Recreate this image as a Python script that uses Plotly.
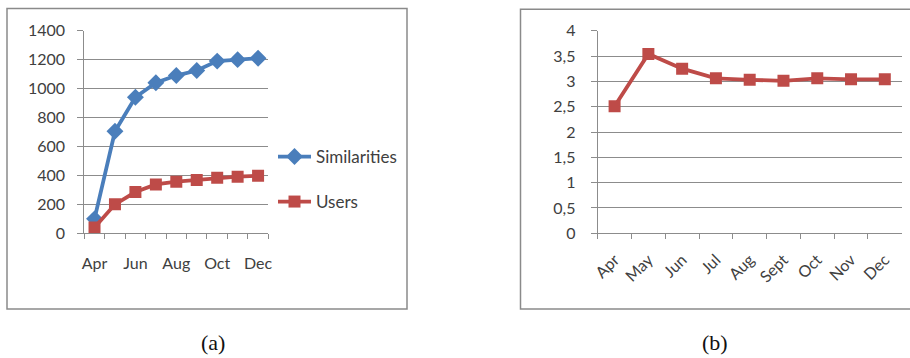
import plotly.graph_objects as go

W, H = 910, 358

months = ["Apr", "May", "Jun", "Jul", "Aug", "Sept", "Oct", "Nov", "Dec"]
left_labels = ["Apr", "", "Jun", "", "Aug", "", "Oct", "", "Dec"]
similarities = [100, 705, 940, 1040, 1090, 1125, 1190, 1200, 1210]
users = [40, 200, 285, 338, 357, 368, 384, 391, 398]
ratio = [2.51, 3.54, 3.25, 3.06, 3.03, 3.01, 3.06, 3.04, 3.04]

left_yticks = [0, 200, 400, 600, 800, 1000, 1200, 1400]
right_yticks = [0, 0.5, 1, 1.5, 2, 2.5, 3, 3.5, 4]
right_yticktext = ["0", "0,5", "1", "1,5", "2", "2,5", "3", "3,5", "4"]

BLUE = "#4A7EBB"
RED = "#BE4B48"
GRID = "#8C8C8C"
TXT = "#404040"
FONT = "Lato, 'Open Sans', sans-serif"


def px(x):
    return x / W


def py(y):
    return 1 - y / H


fig = go.Figure()

fig.add_trace(go.Scatter(
    x=months, y=similarities, name="Similarities", mode="lines+markers",
    line=dict(color=BLUE, width=3.8),
    marker=dict(symbol="diamond", size=13, color=BLUE),
    xaxis="x", yaxis="y", legend="legend",
))
fig.add_trace(go.Scatter(
    x=months, y=users, name="Users", mode="lines+markers",
    line=dict(color=RED, width=3.8),
    marker=dict(symbol="square", size=12, color=RED),
    xaxis="x", yaxis="y", legend="legend2",
))
fig.add_trace(go.Scatter(
    x=months, y=ratio, name="Ratio", mode="lines+markers",
    line=dict(color=RED, width=3.8),
    marker=dict(symbol="square", size=12, color=RED),
    xaxis="x2", yaxis="y2", showlegend=False,
))

tickfont = dict(family=FONT, size=16, color=TXT)
common = dict(
    showline=True, linecolor=GRID, linewidth=1,
    ticks="outside", tickcolor=GRID, tickwidth=1,
    tickfont=tickfont, automargin=False,
)

fig.update_layout(
    width=W, height=H, autosize=False,
    margin=dict(l=0, r=0, t=0, b=0, autoexpand=False),
    paper_bgcolor="white", plot_bgcolor="white",
    font=dict(family=FONT, size=16, color=TXT),
    xaxis=dict(
        domain=[px(84.3), px(268.3)], anchor="y",
        type="category", categoryorder="array", categoryarray=months,
        tickmode="array", tickvals=months, ticktext=left_labels,
        tickson="boundaries", showgrid=False, range=[-0.5, 8.5],
        tickangle=0, ticklen=5, ticklabelstandoff=15, **common,
    ),
    yaxis=dict(
        domain=[py(233.3), py(30.7)], anchor="x",
        range=[0, 1400], tickmode="array", tickvals=left_yticks,
        showgrid=True, gridcolor=GRID, gridwidth=1, zeroline=False,
        ticklen=6, ticklabelstandoff=9, **common,
    ),
    xaxis2=dict(
        domain=[px(597.7), px(901.7)], anchor="y2",
        type="category", categoryorder="array", categoryarray=months,
        tickmode="array", tickvals=months, ticktext=months,
        tickson="boundaries", showgrid=False, range=[-0.5, 8.5],
        tickangle=-45, ticklen=5, ticklabelstandoff=10, **common,
    ),
    yaxis2=dict(
        domain=[py(233.3), py(30.7)], anchor="x2",
        range=[0, 4], tickmode="array", tickvals=right_yticks,
        ticktext=right_yticktext,
        showgrid=True, gridcolor=GRID, gridwidth=1, zeroline=False,
        ticklen=6, ticklabelstandoff=12, **common,
    ),
    legend=dict(
        x=px(273), y=py(157), xanchor="left", yanchor="middle",
        bgcolor="rgba(0,0,0,0)", font=dict(family=FONT, size=17, color=TXT),
        itemwidth=33, borderwidth=0,
    ),
    legend2=dict(
        x=px(273), y=py(202), xanchor="left", yanchor="middle",
        bgcolor="rgba(0,0,0,0)", font=dict(family=FONT, size=17, color=TXT),
        itemwidth=33, borderwidth=0,
    ),
    showlegend=True,
)

# outer boxes of each panel
fig.add_shape(type="rect", xref="paper", yref="paper",
              x0=px(7), x1=px(407), y0=py(309), y1=py(8.5),
              line=dict(color="#8A8A8A", width=1.5), fillcolor="rgba(0,0,0,0)",
              layer="below")
fig.add_shape(type="rect", xref="paper", yref="paper",
              x0=px(520.5), x1=px(915), y0=py(309), y1=py(9.3),
              line=dict(color="#8A8A8A", width=1.5), fillcolor="rgba(0,0,0,0)",
              layer="below")

# captions
CAP = "'Liberation Serif', 'DejaVu Serif', serif"
fig.add_annotation(x=px(213), y=py(342), xref="paper", yref="paper",
                   text="(a)", showarrow=False, xanchor="center", yanchor="middle",
                   font=dict(family=CAP, size=22, color="#111111"))
fig.add_annotation(x=px(715), y=py(342), xref="paper", yref="paper",
                   text="(b)", showarrow=False, xanchor="center", yanchor="middle",
                   font=dict(family=CAP, size=22, color="#111111"))

fig.write_html("out.html", config={"displayModeBar": False},
               post_script="document.body.style.margin='0';")
